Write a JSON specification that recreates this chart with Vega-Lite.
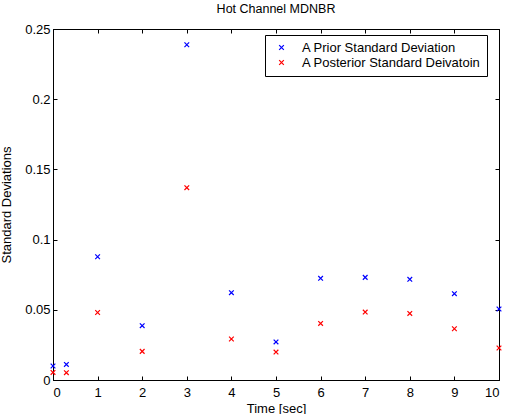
{
  "$schema": "https://vega.github.io/schema/vega-lite/v6.json",
  "width": 446,
  "height": 351,
  "autosize": {"type": "none"},
  "padding": {"left": 53, "top": 29, "right": 9, "bottom": 34},
  "background": "white",
  "title": {"text": "Hot Channel MDNBR", "font": "Liberation Sans", "fontSize": 12.5, "fontWeight": "normal", "color": "black", "offset": 8},
  "config": {
    "view": {"stroke": "black", "strokeWidth": 1},
    "axis": {"labelFont": "Liberation Sans", "titleFont": "Liberation Sans", "labelFontSize": 13, "titleFontSize": 13, "titleFontWeight": "normal", "labelColor": "black", "titleColor": "black", "domainColor": "black", "tickColor": "black", "grid": false, "tickSize": -4},
    "legend": {"labelFont": "Liberation Sans", "labelFontSize": 13, "labelColor": "black"}
  },
  "data": {"values": [
    {"t": 0, "sd": 0.0100, "series": "A Prior Standard Deviation"},
    {"t": 0.3, "sd": 0.0111, "series": "A Prior Standard Deviation"},
    {"t": 1, "sd": 0.0878, "series": "A Prior Standard Deviation"},
    {"t": 2, "sd": 0.0387, "series": "A Prior Standard Deviation"},
    {"t": 3, "sd": 0.2388, "series": "A Prior Standard Deviation"},
    {"t": 4, "sd": 0.0622, "series": "A Prior Standard Deviation"},
    {"t": 5, "sd": 0.0271, "series": "A Prior Standard Deviation"},
    {"t": 6, "sd": 0.0724, "series": "A Prior Standard Deviation"},
    {"t": 7, "sd": 0.0731, "series": "A Prior Standard Deviation"},
    {"t": 8, "sd": 0.0717, "series": "A Prior Standard Deviation"},
    {"t": 9, "sd": 0.0615, "series": "A Prior Standard Deviation"},
    {"t": 10, "sd": 0.0506, "series": "A Prior Standard Deviation"},
    {"t": 0, "sd": 0.0054, "series": "A Posterior Standard Deivatoin"},
    {"t": 0.3, "sd": 0.0052, "series": "A Posterior Standard Deivatoin"},
    {"t": 1, "sd": 0.0481, "series": "A Posterior Standard Deivatoin"},
    {"t": 2, "sd": 0.0204, "series": "A Posterior Standard Deivatoin"},
    {"t": 3, "sd": 0.1370, "series": "A Posterior Standard Deivatoin"},
    {"t": 4, "sd": 0.0292, "series": "A Posterior Standard Deivatoin"},
    {"t": 5, "sd": 0.0199, "series": "A Posterior Standard Deivatoin"},
    {"t": 6, "sd": 0.0403, "series": "A Posterior Standard Deivatoin"},
    {"t": 7, "sd": 0.0484, "series": "A Posterior Standard Deivatoin"},
    {"t": 8, "sd": 0.0474, "series": "A Posterior Standard Deivatoin"},
    {"t": 9, "sd": 0.0365, "series": "A Posterior Standard Deivatoin"},
    {"t": 10, "sd": 0.0228, "series": "A Posterior Standard Deivatoin"}
  ]},
  "layer": [
    {
      "mark": {"type": "point", "shape": "M-1,-1L1,1M1,-1L-1,1", "filled": false, "strokeWidth": 1.2, "size": 22, "opacity": 1, "clip": false},
      "encoding": {
        "x": {"field": "t", "type": "quantitative", "scale": {"domain": [0, 10], "nice": false}, "axis": {"orient": "bottom", "values": [0,1,2,3,4,5,6,7,8,9,10], "title": "Time [sec]", "labelPadding": 10, "titlePadding": 3}},
        "y": {"field": "sd", "type": "quantitative", "scale": {"domain": [0, 0.25], "nice": false, "zero": true}, "axis": {"orient": "left", "values": [0,0.05,0.1,0.15,0.2,0.25], "format": "~g", "title": "Standard Deviations", "labelPadding": 7, "titlePadding": 11}},
        "color": {"field": "series", "type": "nominal", "scale": {"domain": ["A Prior Standard Deviation", "A Posterior Standard Deivatoin"], "range": ["#0000ff", "#ff0000"]},
          "legend": {"title": null, "orient": "none", "legendX": 212, "legendY": 6, "fillColor": "white", "strokeColor": "black", "padding": 6, "symbolType": "M-1,-1L1,1M1,-1L-1,1", "symbolSize": 22, "symbolStrokeWidth": 1.2, "symbolFillColor": "transparent", "labelOffset": 14, "labelLimit": 400, "rowPadding": 1, "symbolOffset": 4}}
      }
    },
    {
      "mark": {"type": "point", "opacity": 0},
      "encoding": {
        "x": {"field": "t", "type": "quantitative", "scale": {"domain": [0, 10], "nice": false}, "axis": {"orient": "top", "values": [0,1,2,3,4,5,6,7,8,9,10], "labels": false, "title": null}},
        "y": {"field": "sd", "type": "quantitative", "scale": {"domain": [0, 0.25], "nice": false}, "axis": {"orient": "right", "values": [0,0.05,0.1,0.15,0.2,0.25], "labels": false, "title": null}}
      }
    }
  ],
  "resolve": {"axis": {"x": "independent", "y": "independent"}}
}
